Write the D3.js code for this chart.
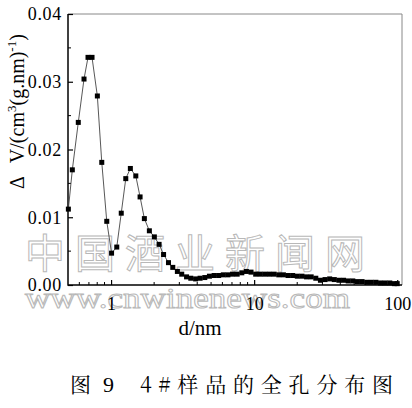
<!DOCTYPE html>
<html><head><meta charset="utf-8">
<script src="https://cdn.jsdelivr.net/npm/d3@7"></script>
<style>body{margin:0;background:#fff}svg{display:block}</style>
</head><body>
<svg id="c" width="412" height="408"></svg>
<script>
const poreD = [0.503,0.536,0.590,0.647,0.690,0.736,0.802,0.861,0.933,1.008,1.096,1.178,1.267,1.364,1.489,1.595,1.709,1.852,2.007,2.166,2.328,2.519,2.700,2.907,3.118,3.370,3.607,3.898,4.19,4.52,4.87,5.25,5.65,6.09,6.56,7.06,7.61,8.20,8.83,9.51,10.25,11.04,11.89,12.81,13.80,14.87,16.02,17.26,18.59,20.03,21.58,23.24,25.04,26.97,29.06,31.30,33.72,36.33,39.13,42.16,45.42,48.93,52.71,56.78,61.17,65.89,70.98,76.47,82.38,88.74,95.6,100];
const dV = [0.0112,0.0170,0.0240,0.0304,0.0336,0.0336,0.0279,0.0181,0.0094,0.0047,0.0056,0.0106,0.0157,0.0172,0.0161,0.0130,0.0098,0.0080,0.0071,0.0060,0.0045,0.0033,0.0026,0.0020,0.0016,0.0012,0.0010,0.0009,0.0010,0.0011,0.0013,0.0014,0.0014,0.0015,0.0015,0.0016,0.0016,0.0018,0.0020,0.0019,0.0016,0.0016,0.0016,0.0016,0.0016,0.0015,0.0015,0.0014,0.0014,0.0013,0.0013,0.0012,0.0012,0.0010,0.0007,0.0008,0.0009,0.0008,0.0007,0.0007,0.0006,0.0006,0.0005,0.0005,0.0004,0.0004,0.0004,0.0003,0.0003,0.0003,0.0002,0.0002];
const yTicks = [0, 0.01, 0.02, 0.03, 0.04];
const yTickLabels = ["0.00","0.01","0.02","0.03","0.04"];
const xTicks = [1, 10, 100];
const xTickLabels = ["1","10","100"];
const xMinor = [0.6,0.7,0.8,0.9,2,3,4,5,6,7,8,9,20,30,40,50,60,70,80,90];
const yMinor = [0.005,0.015,0.025,0.035];

const svg = d3.select("#c");
const L=68,R=402,T=14,B=285;
const x = d3.scaleLog().domain([0.5,108]).range([L,R]);
const y = d3.scaleLinear().domain([0,0.04]).range([B,T]);
const SERIF = '"Liberation Serif"';
const CJKSERIF = '"Noto Serif CJK SC"';
const CJKSANS = '"Noto Sans CJK SC"';

// watermark
const wm = svg.append("g");
wm.append("text").attr("x",25).attr("y",268).style("font-family",CJKSANS).attr("font-size",40)
  .attr("textLength",340).attr("lengthAdjust","spacing").attr("fill","#fff").attr("fill-opacity",0.4).attr("stroke","#b8b8b8").attr("stroke-width",1).text("中国酒业新闻网");
wm.append("text").attr("x",25).attr("y",308).style("font-family",SERIF).attr("font-size",30)
  .attr("textLength",325).attr("lengthAdjust","spacingAndGlyphs").attr("fill","#fff").attr("fill-opacity",0.4).attr("stroke","#b8b8b8").attr("stroke-width",1).text("www.cnwinenews.com");

// frame top/right
svg.append("line").attr("x1",L).attr("x2",R).attr("y1",T).attr("y2",T).attr("stroke","#888").attr("stroke-width",1);
svg.append("line").attr("x1",R).attr("x2",R).attr("y1",T).attr("y2",B).attr("stroke","#888").attr("stroke-width",1);

// axes
const yAx = d3.axisLeft(y).tickValues(yTicks).tickSize(-5).tickPadding(6).tickFormat((d,i)=>yTickLabels[i]);
const gy = svg.append("g").attr("transform",`translate(${L},0)`).call(yAx);
gy.attr("font-family",null).attr("font-size",null);
gy.select(".domain").remove();
gy.selectAll(".tick line").attr("stroke","#000").attr("stroke-width",1.2);
gy.selectAll("text").style("font-family",SERIF).style("font-size","18px").attr("fill","#000").attr("letter-spacing","0.7px");
svg.selectAll(".ym").data(yMinor).enter().append("line").attr("x1",L).attr("x2",L+3).attr("y1",d=>y(d)).attr("y2",d=>y(d)).attr("stroke","#000");

const xAx = d3.axisBottom(x).tickValues(xTicks).tickSize(-5).tickPadding(12).tickFormat((d,i)=>xTickLabels[i]);
const gx = svg.append("g").attr("transform",`translate(0,${B})`).call(xAx);
gx.attr("font-family",null).attr("font-size",null);
gx.select(".domain").remove();
gx.selectAll(".tick line").attr("stroke","#000").attr("stroke-width",1.2);
gx.selectAll("text").style("font-family",SERIF).style("font-size","18px").attr("fill","#000");
svg.selectAll(".xm").data(xMinor).enter().append("line").attr("x1",d=>x(d)).attr("x2",d=>x(d)).attr("y1",B).attr("y2",B-3).attr("stroke","#000");

svg.append("line").attr("x1",L).attr("x2",L).attr("y1",T).attr("y2",B+0.75).attr("stroke","#000").attr("stroke-width",1.5);
svg.append("line").attr("x1",L).attr("x2",R).attr("y1",B).attr("y2",B).attr("stroke","#000").attr("stroke-width",1.5);

// data
const pts = poreD.map((d,i)=>[d,dV[i]]);
svg.append("path").attr("d",d3.line().x(d=>x(d[0])).y(d=>y(d[1]))(pts)).attr("fill","none").attr("stroke","#444").attr("stroke-width",0.9);
svg.selectAll(".pt").data(pts).enter().append("rect")
  .attr("x",d=>x(d[0])-2.5).attr("y",d=>y(d[1])-2.5).attr("width",5).attr("height",5).attr("fill","#000");

// axis titles
const yl = svg.append("text").attr("transform","translate(24,189) rotate(-90)").style("font-family",SERIF).style("font-size","20px").attr("fill","#000");
yl.append("tspan").text("Δ");
yl.append("tspan").attr("dx",13).text("V/(cm");
yl.append("tspan").attr("dy",-8).style("font-size","13px").text("3");
yl.append("tspan").attr("dy",8).text("(g.nm)");
yl.append("tspan").attr("dy",-8).style("font-size","13px").text("-1");
yl.append("tspan").attr("dy",8).text(")");

svg.append("text").attr("x",200).attr("y",335).attr("text-anchor","middle").style("font-family",SERIF).style("font-size","21px").text("d/nm");

// caption
svg.append("text").attr("x",70).attr("y",392).style("font-family",CJKSERIF).style("font-size","21px").text("图");
svg.append("text").attr("x",103).attr("y",392).style("font-family",SERIF).style("font-size","22px").text("9");
svg.append("text").attr("x",140).attr("y",392).style("font-family",CJKSERIF).style("font-size","21px").attr("textLength",253).attr("lengthAdjust","spacing").text("4#样品的全孔分布图");
</script>
</body></html>
